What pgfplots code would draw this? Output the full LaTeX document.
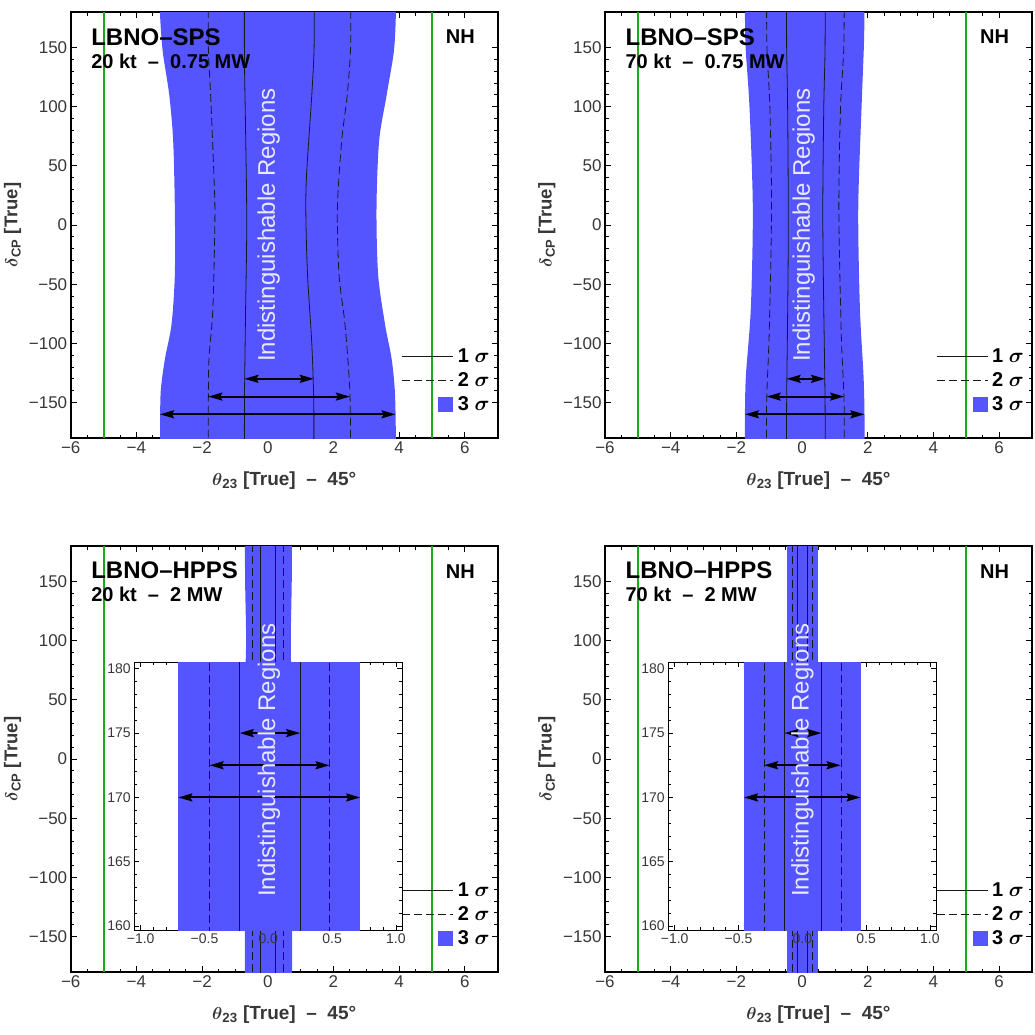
\documentclass[border=0pt]{standalone}
\usepackage{pgfplots}
\pgfplotsset{compat=1.18}
\usepgfplotslibrary{fillbetween}
\usetikzlibrary{arrows.meta}
\usepackage{fontspec}
\setmainfont{Liberation Sans}
\definecolor{band}{RGB}{85,85,255}
\definecolor{grn}{RGB}{25,170,25}
\definecolor{lbl}{RGB}{55,55,55}
\definecolor{txt}{RGB}{232,232,255}
\tikzset{
  dbl/.style={black, line width=2pt, arrows={Stealth[length=14pt,width=8pt,inset=2pt]-Stealth[length=14pt,width=8pt,inset=2pt]}},
  s1/.style={black!90, line width=0.8pt},
  s2/.style={black!90, line width=0.8pt, dash pattern=on 8pt off 4pt},
  gl/.style={draw=grn, line width=2pt, mark=none},
  ttl/.style={anchor=base west, font=\bfseries\fontsize{24}{24}\selectfont},
  sub/.style={anchor=base west, font=\bfseries\fontsize{20}{20}\selectfont},
  nh/.style={anchor=base east, font=\bfseries\fontsize{20}{20}\selectfont},
  ind/.style={rotate=90, anchor=center, text=txt, font=\fontsize{24}{24}\selectfont},
}
\pgfplotsset{
  lline/.style={legend image code/.code={\draw[##1] (0pt,0pt) -- (51pt,0pt);}},
  lsq/.style={legend image code/.code={\path[draw=none] (0pt,0pt) -- (51pt,0pt); \fill[band, draw=none] (36pt,-7.5pt) rectangle (51pt,7.5pt);}},
  mainax/.style={
    scale only axis, width=427pt, height=426pt,
    xmin=-6, xmax=7, ymin=-180, ymax=180,
    xtick={-6,-4,-2,0,2,4,6}, xticklabels={−6,−4,−2,0,2,4,6},
    ytick={-150,-100,-50,0,50,100,150}, yticklabels={−150,−100,−50,0,50,100,150},
    minor x tick num=3, minor y tick num=4,
    tick align=inside, xtick pos=both, ytick pos=both,
    xticklabel pos=lower, yticklabel pos=left,
    major tick length=6pt, minor tick length=3.5pt,
    every tick/.append style={black, line width=0.8pt},
    axis line style={line width=1.6pt},
    xticklabel style={font=\fontsize{17}{17}\selectfont, text=lbl},
    yticklabel style={font=\fontsize{17}{17}\selectfont, text=lbl},
    xlabel={{\boldmath$\theta$}\textsubscript{23} [True]\ \ –\ \ 45°},
    ylabel={{\boldmath$\delta$}\textsubscript{CP} [True]},
    xlabel style={at={(axis description cs:0.5,-0.1)}, anchor=center, font=\bfseries\fontsize{19}{19}\selectfont, text=lbl},
    ylabel style={at={(axis description cs:-0.136,0.5)}, anchor=center, font=\bfseries\fontsize{18.5}{18.5}\selectfont, text=lbl},
    clip mode=individual,
    legend style={draw=none, fill=none, at={(axis description cs:1,0)}, anchor=south east, xshift=-7pt, yshift=24.5pt, font=\fontsize{20}{20}\selectfont, row sep=6.5pt, inner sep=0pt, nodes={inner sep=1pt}, /tikz/every odd column/.append style={column sep=3pt}},
    legend cell align=left,
    legend entries={{\textbf{1} {\boldmath$\sigma$}},{\textbf{2} {\boldmath$\sigma$}},{\textbf{3} {\boldmath$\sigma$}}},
  },
  insax/.style={
    scale only axis, width=268pt, height=267.7pt,
    xmin=-1.05, xmax=1.05, ymin=159.7, ymax=180.5,
    xtick={-1,-0.5,0,0.5,1}, xticklabels={−1.0,−0.5,0.0,0.5,1.0},
    ytick={160,165,170,175,180}, yticklabels={160,165,170,175,180},
    minor x tick num=4, minor y tick num=4,
    tick align=inside, xtick pos=both, ytick pos=both,
    xticklabel pos=lower, yticklabel pos=left,
    major tick length=5pt, minor tick length=3pt,
    every tick/.append style={black, line width=0.6pt},
    axis line style={line width=1pt},
    xticklabel style={font=\fontsize{14}{14}\selectfont, text=lbl},
    yticklabel style={font=\fontsize{14}{14}\selectfont, text=lbl},
    axis background/.style={fill=white},
    clip mode=individual,
  },
}
\newcommand{\mylegend}{%
  \addlegendimage{s1, lline}
  \addlegendimage{s2, lline}
  \addlegendimage{lsq}
}
\begin{document}
\begin{tikzpicture}

% ---------------- Top left: LBNO-SPS 20 kt
\begin{axis}[mainax, at={(70.7pt,-438pt)}, anchor=south west]
\mylegend
\addplot[gl, forget plot] coordinates {(-5,-180) (-5,180)};
\addplot[gl, forget plot] coordinates {(5,-180) (5,180)};
\addplot[name path=tlL, draw=none, smooth, forget plot] coordinates {(-3.28,-200) (-3.28,-178) (-3.26,-141) (-3.13,-113) (-2.93,-84) (-2.83,-42) (-2.83,14) (-2.88,71) (-3.00,110) (-3.20,147) (-3.28,178) (-3.28,200)};
\addplot[name path=tlR, draw=none, smooth, forget plot] coordinates {(3.90,-200) (3.90,-178) (3.87,-141) (3.77,-113) (3.57,-84) (3.36,-42) (3.31,14) (3.39,71) (3.62,110) (3.84,147) (3.90,178) (3.90,200)};
\addplot[band, forget plot] fill between[of=tlL and tlR];
\addplot[s1, smooth, forget plot] coordinates {(-0.71,-200) (-0.71,-150) (-0.68,-80) (-0.64,0) (-0.67,70) (-0.71,140) (-0.71,200)};
\addplot[s1, smooth, forget plot] coordinates {(1.40,-200) (1.40,-150) (1.34,-100) (1.21,-42) (1.16,8) (1.18,42) (1.34,110) (1.41,150) (1.41,200)};
\addplot[s2, smooth, forget plot] coordinates {(-1.81,-200) (-1.81,-150) (-1.79,-113) (-1.67,-70) (-1.61,7) (-1.64,42) (-1.74,110) (-1.81,150) (-1.81,200)};
\addplot[s2, smooth, forget plot] coordinates {(2.52,-200) (2.50,-141) (2.35,-84) (2.17,-42) (2.12,14) (2.25,71) (2.42,110) (2.52,150) (2.52,200)};
\addplot[dbl, forget plot] coordinates {(-0.71,-130) (1.40,-130)};
\addplot[dbl, forget plot] coordinates {(-1.81,-145) (2.50,-145)};
\addplot[dbl, forget plot] coordinates {(-3.28,-160) (3.89,-160)};
\node[ind] at (axis cs:0.03,0) {Indistinguishable Regions};
\node[ttl] at (axis description cs:0.04,0.9225) {LBNO–SPS};
\node[sub] at (axis description cs:0.04,0.868) {20 kt \ – \ 0.75 MW};
\node[nh] at (axis description cs:0.9546,0.9249) {NH};
\end{axis}

% ---------------- Top right: LBNO-SPS 70 kt
\begin{axis}[mainax, at={(605pt,-438pt)}, anchor=south west]
\mylegend
\addplot[gl, forget plot] coordinates {(-5,-180) (-5,180)};
\addplot[gl, forget plot] coordinates {(5,-180) (5,180)};
\addplot[name path=trL, draw=none, smooth, forget plot] coordinates {(-1.74,-200) (-1.74,-160) (-1.71,-127) (-1.56,-70) (-1.50,14) (-1.60,99) (-1.72,150) (-1.74,180) (-1.74,200)};
\addplot[name path=trR, draw=none, smooth, forget plot] coordinates {(1.90,-200) (1.90,-160) (1.87,-127) (1.76,-70) (1.71,14) (1.81,99) (1.88,150) (1.90,180) (1.90,200)};
\addplot[band, forget plot] fill between[of=trL and trR];
\addplot[s1, smooth, forget plot] coordinates {(-0.47,-200) (-0.47,-150) (-0.43,-50) (-0.42,14) (-0.44,99) (-0.47,150) (-0.47,200)};
\addplot[s1, smooth, forget plot] coordinates {(0.70,-200) (0.70,-150) (0.65,-50) (0.63,14) (0.66,99) (0.70,150) (0.70,200)};
\addplot[s2, smooth, forget plot] coordinates {(-1.08,-200) (-1.08,-150) (-1.00,-90) (-0.93,14) (-0.98,99) (-1.07,150) (-1.08,200)};
\addplot[s2, smooth, forget plot] coordinates {(1.28,-200) (1.28,-150) (1.19,-90) (1.12,14) (1.17,99) (1.27,150) (1.28,200)};
\addplot[dbl, forget plot] coordinates {(-0.47,-130) (0.70,-130)};
\addplot[dbl, forget plot] coordinates {(-1.08,-145) (1.28,-145)};
\addplot[dbl, forget plot] coordinates {(-1.74,-160) (1.90,-160)};
\node[ind] at (axis cs:0.05,0) {Indistinguishable Regions};
\node[ttl] at (axis description cs:0.04,0.9225) {LBNO–SPS};
\node[sub] at (axis description cs:0.04,0.868) {70 kt \ – \ 0.75 MW};
\node[nh] at (axis description cs:0.9546,0.9249) {NH};
\end{axis}

% ---------------- Bottom left: LBNO-HPPS 20 kt
\begin{axis}[mainax, at={(70.7pt,-972pt)}, anchor=south west]
\mylegend
\addplot[gl, forget plot] coordinates {(-5,-180) (-5,180)};
\addplot[gl, forget plot] coordinates {(5,-180) (5,180)};
\addplot[name path=blL, draw=none, smooth, forget plot] coordinates {(-0.70,-200) (-0.70,-150) (-0.69,50) (-0.66,100) (-0.69,150) (-0.70,200)};
\addplot[name path=blR, draw=none, smooth, forget plot] coordinates {(0.74,-200) (0.74,-150) (0.72,50) (0.70,100) (0.73,150) (0.74,200)};
\addplot[band, forget plot] fill between[of=blL and blR];
\addplot[s1, forget plot] coordinates {(-0.22,-200) (-0.22,200)};
\addplot[s1, forget plot] coordinates {(0.24,-200) (0.24,200)};
\addplot[s2, forget plot] coordinates {(-0.46,-200) (-0.46,200)};
\addplot[s2, forget plot] coordinates {(0.47,-200) (0.47,200)};
\node[ttl] at (axis description cs:0.04,0.924) {LBNO–HPPS};
\node[sub] at (axis description cs:0.04,0.869) {20 kt \ – \ 2 MW};
\node[nh] at (axis description cs:0.9546,0.9249) {NH};
\end{axis}
\begin{axis}[insax, at={(134.3pt,-930pt)}, anchor=south west]
\addplot[fill=band, draw=none] coordinates {(-0.705,150) (-0.705,190) (0.72,190) (0.72,150)} -- cycle;
\addplot[s1] coordinates {(-0.224,150) (-0.224,190)};
\addplot[s1] coordinates {(0.25,150) (0.25,190)};
\addplot[s2] coordinates {(-0.46,150) (-0.46,190)};
\addplot[s2] coordinates {(0.48,150) (0.48,190)};
\addplot[dbl] coordinates {(-0.224,175) (0.25,175)};
\addplot[dbl] coordinates {(-0.46,172.5) (0.48,172.5)};
\addplot[dbl] coordinates {(-0.705,170) (0.72,170)};
\node[ind] at (axis cs:0.005,172.9) {Indistinguishable Regions};
\end{axis}

% ---------------- Bottom right: LBNO-HPPS 70 kt
\begin{axis}[mainax, at={(605pt,-972pt)}, anchor=south west]
\mylegend
\addplot[gl, forget plot] coordinates {(-5,-180) (-5,180)};
\addplot[gl, forget plot] coordinates {(5,-180) (5,180)};
\addplot[name path=brL, draw=none, forget plot] coordinates {(-0.46,-200) (-0.46,200)};
\addplot[name path=brR, draw=none, forget plot] coordinates {(0.47,-200) (0.47,200)};
\addplot[band, forget plot] fill between[of=brL and brR];
\addplot[s1, forget plot] coordinates {(-0.14,-200) (-0.14,200)};
\addplot[s1, forget plot] coordinates {(0.16,-200) (0.16,200)};
\addplot[s2, forget plot] coordinates {(-0.30,-200) (-0.30,200)};
\addplot[s2, forget plot] coordinates {(0.31,-200) (0.31,200)};
\node[ttl] at (axis description cs:0.04,0.924) {LBNO–HPPS};
\node[sub] at (axis description cs:0.04,0.869) {70 kt \ – \ 2 MW};
\node[nh] at (axis description cs:0.9546,0.9249) {NH};
\end{axis}
\begin{axis}[insax, at={(668.3pt,-930pt)}, anchor=south west]
\addplot[fill=band, draw=none] coordinates {(-0.457,150) (-0.457,190) (0.457,190) (0.457,150)} -- cycle;
\addplot[s1] coordinates {(-0.14,150) (-0.14,190)};
\addplot[s1] coordinates {(0.15,150) (0.15,190)};
\addplot[s2] coordinates {(-0.30,150) (-0.30,190)};
\addplot[s2] coordinates {(0.306,150) (0.306,190)};
\addplot[dbl] coordinates {(-0.14,175) (0.15,175)};
\addplot[dbl] coordinates {(-0.30,172.5) (0.30,172.5)};
\addplot[dbl] coordinates {(-0.457,170) (0.457,170)};
\node[ind] at (axis cs:0.0,172.9) {Indistinguishable Regions};
\end{axis}
\pgfresetboundingbox
\useasboundingbox (0pt,0pt) rectangle (1035pt,-1035pt);
\end{tikzpicture}
\end{document}
